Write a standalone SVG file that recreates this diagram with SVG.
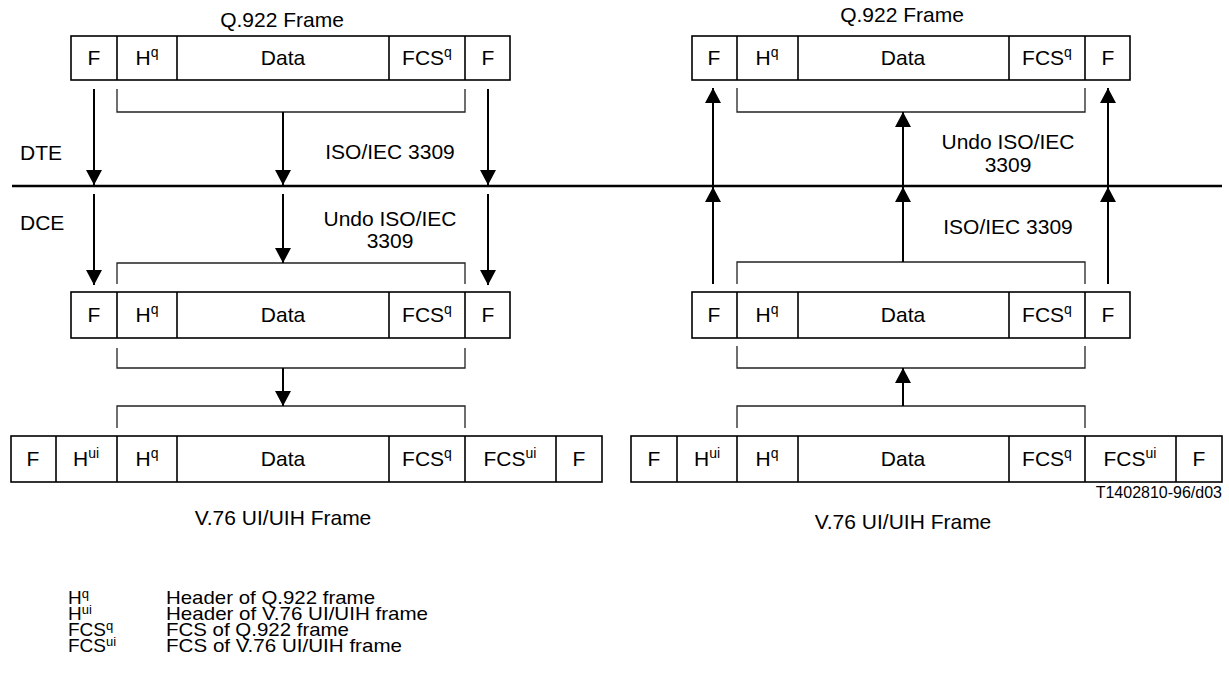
<svg xmlns="http://www.w3.org/2000/svg" width="1229" height="682" viewBox="0 0 1229 682">
<defs>
<marker id="ah" viewBox="0 0 15 16" refX="15" refY="8" markerWidth="15" markerHeight="16" markerUnits="userSpaceOnUse" orient="auto">
<path d="M0,0 L15,8 L0,16 z" fill="#000"/>
</marker>
</defs>
<style>
text{font-family:"Liberation Sans",Arial,sans-serif;font-size:21px;fill:#000}
.m{text-anchor:middle}
.e{text-anchor:end}
.sm{font-size:16px}
.lg{font-size:19px}
.sup{font-size:14px}
.lsup{font-size:13px}
.box{fill:#fff;stroke:#000;stroke-width:1.6}
.div{stroke:#000;stroke-width:1.6}
.br{fill:none;stroke:#222;stroke-width:1.3}
.ar{stroke:#000;stroke-width:2;marker-end:url(#ah)}
.base{stroke:#000;stroke-width:2.5}
</style>
<rect width="1229" height="682" fill="#fff"/>

<g id="labels">
<text class="m" x="282" y="27">Q.922 Frame</text>
<text class="m" x="902" y="22">Q.922 Frame</text>
<text x="20" y="160">DTE</text>
<text x="20" y="230">DCE</text>
<text class="m" x="390" y="159">ISO/IEC 3309</text>
<text class="m" x="390" y="226">Undo ISO/IEC</text>
<text class="m" x="390" y="248">3309</text>
<text class="m" x="1008" y="149">Undo ISO/IEC</text>
<text class="m" x="1008" y="172">3309</text>
<text class="m" x="1008" y="234">ISO/IEC 3309</text>
<text class="m" x="283" y="525">V.76 UI/UIH Frame</text>
<text class="m" x="903" y="529">V.76 UI/UIH Frame</text>
<text class="e sm" x="1222" y="498">T1402810-96/d03</text>
</g>

<g id="frame-top-left">
<rect class="box" x="71" y="36" width="439" height="44"/>
<path class="div" d="M117,36V80M177,36V80M389,36V80M465,36V80"/>
<text class="m" x="94" y="65">F</text>
<text class="m" x="147" y="65">H<tspan class="sup" dy="-8">q</tspan></text>
<text class="m" x="283" y="65">Data</text>
<text class="m" x="427" y="65">FCS<tspan class="sup" dy="-8">q</tspan></text>
<text class="m" x="488" y="65">F</text>
</g>

<g id="frame-top-right">
<rect class="box" x="692" y="36" width="438" height="44"/>
<path class="div" d="M737,36V80M798,36V80M1009,36V80M1085,36V80"/>
<text class="m" x="714" y="65">F</text>
<text class="m" x="767" y="65">H<tspan class="sup" dy="-8">q</tspan></text>
<text class="m" x="903" y="65">Data</text>
<text class="m" x="1047" y="65">FCS<tspan class="sup" dy="-8">q</tspan></text>
<text class="m" x="1108" y="65">F</text>
</g>

<g id="frame-mid-left">
<rect class="box" x="71" y="292" width="439" height="46"/>
<path class="div" d="M117,292V338M177,292V338M389,292V338M465,292V338"/>
<text class="m" x="94" y="322">F</text>
<text class="m" x="147" y="322">H<tspan class="sup" dy="-8">q</tspan></text>
<text class="m" x="283" y="322">Data</text>
<text class="m" x="427" y="322">FCS<tspan class="sup" dy="-8">q</tspan></text>
<text class="m" x="488" y="322">F</text>
</g>

<g id="frame-mid-right">
<rect class="box" x="692" y="292" width="438" height="46"/>
<path class="div" d="M737,292V338M798,292V338M1009,292V338M1085,292V338"/>
<text class="m" x="714" y="322">F</text>
<text class="m" x="767" y="322">H<tspan class="sup" dy="-8">q</tspan></text>
<text class="m" x="903" y="322">Data</text>
<text class="m" x="1047" y="322">FCS<tspan class="sup" dy="-8">q</tspan></text>
<text class="m" x="1108" y="322">F</text>
</g>

<g id="frame-bottom-left">
<rect class="box" x="11" y="436" width="591" height="46"/>
<path class="div" d="M56,436V482M117,436V482M177,436V482M389,436V482M465,436V482M556,436V482"/>
<text class="m" x="33" y="466">F</text>
<text class="m" x="86" y="466">H<tspan class="sup" dy="-8">ui</tspan></text>
<text class="m" x="147" y="466">H<tspan class="sup" dy="-8">q</tspan></text>
<text class="m" x="283" y="466">Data</text>
<text class="m" x="427" y="466">FCS<tspan class="sup" dy="-8">q</tspan></text>
<text class="m" x="510" y="466">FCS<tspan class="sup" dy="-8">ui</tspan></text>
<text class="m" x="579" y="466">F</text>
</g>

<g id="frame-bottom-right">
<rect class="box" x="631" y="436" width="591" height="46"/>
<path class="div" d="M677,436V482M737,436V482M798,436V482M1009,436V482M1085,436V482M1176,436V482"/>
<text class="m" x="654" y="466">F</text>
<text class="m" x="707" y="466">H<tspan class="sup" dy="-8">ui</tspan></text>
<text class="m" x="767" y="466">H<tspan class="sup" dy="-8">q</tspan></text>
<text class="m" x="903" y="466">Data</text>
<text class="m" x="1047" y="466">FCS<tspan class="sup" dy="-8">q</tspan></text>
<text class="m" x="1130" y="466">FCS<tspan class="sup" dy="-8">ui</tspan></text>
<text class="m" x="1199" y="466">F</text>
</g>

<g id="connectors">
<line class="base" x1="12" y1="186" x2="1222" y2="186"/>
<path class="br" d="M117,89V112H465V89"/>
<path class="br" d="M117,284V263H465V284"/>
<path class="br" d="M117,348V368H465V348"/>
<path class="br" d="M117,428V406H465V428"/>
<path class="br" d="M737,88V112H1085V88"/>
<path class="br" d="M737,284V262H1085V284"/>
<path class="br" d="M737,346V368H1085V346"/>
<path class="br" d="M737,428V406H1085V428"/>
<line class="ar" x1="94" y1="89" x2="94" y2="185"/>
<line class="ar" x1="283" y1="112" x2="283" y2="185"/>
<line class="ar" x1="488" y1="89" x2="488" y2="185"/>
<line class="ar" x1="94" y1="194" x2="94" y2="285"/>
<line class="ar" x1="283" y1="194" x2="283" y2="263"/>
<line class="ar" x1="488" y1="194" x2="488" y2="285"/>
<line class="ar" x1="283" y1="368" x2="283" y2="406"/>
<line class="ar" x1="713" y1="185" x2="713" y2="88"/>
<line class="ar" x1="903" y1="185" x2="903" y2="112"/>
<line class="ar" x1="1108" y1="185" x2="1108" y2="88"/>
<line class="ar" x1="713" y1="284" x2="713" y2="187"/>
<line class="ar" x1="903" y1="262" x2="903" y2="187"/>
<line class="ar" x1="1108" y1="284" x2="1108" y2="187"/>
<line class="ar" x1="903" y1="406" x2="903" y2="368"/>
</g>

<g id="legend">
<text class="lg" x="68" y="604">H<tspan class="lsup" dy="-6">q</tspan></text>
<text class="lg" x="166" y="604" textLength="209" lengthAdjust="spacingAndGlyphs">Header of Q.922 frame</text>
<text class="lg" x="68" y="620">H<tspan class="lsup" dy="-6">ui</tspan></text>
<text class="lg" x="166" y="620" textLength="262" lengthAdjust="spacingAndGlyphs">Header of V.76 UI/UIH frame</text>
<text class="lg" x="68" y="636">FCS<tspan class="lsup" dy="-6">q</tspan></text>
<text class="lg" x="166" y="636" textLength="183" lengthAdjust="spacingAndGlyphs">FCS of Q.922 frame</text>
<text class="lg" x="68" y="652">FCS<tspan class="lsup" dy="-6">ui</tspan></text>
<text class="lg" x="166" y="652" textLength="236" lengthAdjust="spacingAndGlyphs">FCS of V.76 UI/UIH frame</text>
</g>
</svg>
